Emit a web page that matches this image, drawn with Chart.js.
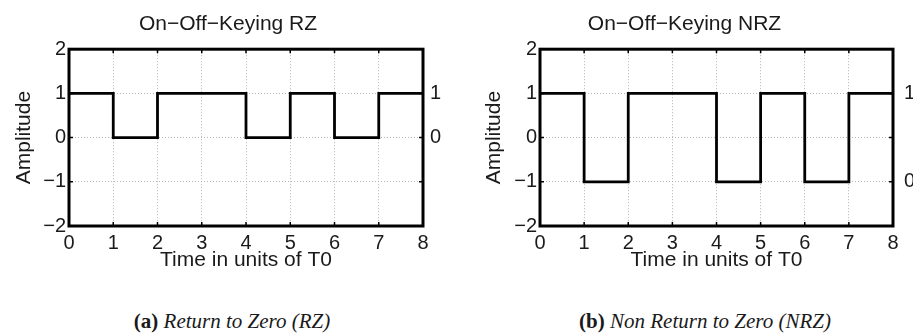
<!DOCTYPE html>
<html>
<head>
<meta charset="utf-8">
<script src="https://cdn.jsdelivr.net/npm/chart.js@4.4.0/dist/chart.umd.min.js"></script>
<style>
    body { margin: 0; background: #fff; width: 913px; height: 334px; position: relative; overflow: hidden; }
    .panel { position: absolute; top: 0; }
    .caption {
        position: absolute; top: 311px; line-height: 20px;
        font-family: "Liberation Serif", "Times New Roman", serif; font-size: 21px;
        color: #1a1a1a; white-space: nowrap; transform: translateX(-50%);
    }
</style>
</head>
<body>
<canvas id="rz-chart" class="panel" style="left:0" width="456" height="280"></canvas>
<canvas id="nrz-chart" class="panel" style="left:456px" width="457" height="280"></canvas>
<div class="caption" style="left:232px"><b>(a)</b> <i>Return to Zero (RZ)</i></div>
<div class="caption" style="left:705px"><b>(b)</b> <i>Non Return to Zero (NRZ)</i></div>

<script>
const timeTicks = [0, 1, 2, 3, 4, 5, 6, 7, 8];
const amplitudeTicks = [-2, -1, 0, 1, 2];
// level held from each time point to the next one (last point repeats)
const rzLevels = [1, 0, 1, 1, 0, 1, 0, 1, 1];
const nrzLevels = [1, -1, 1, 1, -1, 1, -1, 1, 1];
const rzBitTicks = [1, 0];
const nrzBitTicks = [1, -1];
const bitLabels = ['1', '0'];

const FONT = '"Liberation Sans", Arial, Helvetica, sans-serif';
const TEXT = '#1a1a1a';

function minus(v) {
    return String(v).replace('-', '\u2212');
}

// box around the axes plus small inward ticks, matlab style
const boxPlugin = {
    id: 'box',
    afterDatasetsDraw(chart) {
        const { ctx, chartArea: a, scales } = chart;
        ctx.save();
        ctx.setLineDash([]);
        ctx.strokeStyle = '#000';
        ctx.lineWidth = 1.5;
        ctx.beginPath();
        timeTicks.forEach(t => {
            const x = scales.x.getPixelForValue(t);
            ctx.moveTo(x, a.top); ctx.lineTo(x, a.top + 4);
            ctx.moveTo(x, a.bottom); ctx.lineTo(x, a.bottom - 4);
        });
        amplitudeTicks.forEach(v => {
            const y = scales.y.getPixelForValue(v);
            ctx.moveTo(a.left, y); ctx.lineTo(a.left + 4, y);
            ctx.moveTo(a.right, y); ctx.lineTo(a.right - 4, y);
        });
        ctx.stroke();
        ctx.lineWidth = 3;
        ctx.strokeRect(a.left, a.top, a.right - a.left, a.bottom - a.top);
        ctx.restore();
    }
};

function makeChart(id, title, levels, bitTicks, geo) {
    const grid = { color: '#b4b4b4', lineWidth: 1, drawTicks: false };
    const border = { display: false, dash: [1, 2] };

    new Chart(document.getElementById(id), {
        type: 'line',
        data: {
            datasets: [{
                data: timeTicks.map((t, i) => ({ x: t, y: levels[i] })),
                borderColor: '#000',
                borderWidth: 2.8,
                pointRadius: 0,
                stepped: 'before',
                fill: false
            }]
        },
        options: {
            responsive: false,
            animation: false,
            layout: { padding: 0 },
            plugins: {
                legend: { display: false },
                tooltip: { enabled: false },
                title: {
                    display: true,
                    text: title,
                    color: TEXT,
                    font: { family: FONT, size: 21, weight: 'normal' },
                    padding: { top: 12, bottom: 12 }
                }
            },
            scales: {
                x: {
                    type: 'linear',
                    min: 0,
                    max: 8,
                    afterBuildTicks: s => { s.ticks = timeTicks.map(v => ({ value: v })); },
                    afterFit: s => { s.height = 54; },
                    grid: grid,
                    border: border,
                    ticks: { color: TEXT, font: { family: FONT, size: 20 }, padding: 5, maxRotation: 0 },
                    title: {
                        display: true,
                        text: 'Time in units of T0',
                        color: TEXT,
                        font: { family: FONT, size: 21 },
                        padding: { top: 0, bottom: 7 }
                    }
                },
                y: {
                    position: 'left',
                    min: -2,
                    max: 2,
                    afterBuildTicks: s => { s.ticks = amplitudeTicks.map(v => ({ value: v })); },
                    afterFit: s => { s.width = geo.left; },
                    grid: grid,
                    border: border,
                    ticks: { color: TEXT, font: { family: FONT, size: 20 }, padding: 3, callback: v => minus(v) },
                    title: {
                        display: true,
                        text: 'Amplitude',
                        color: TEXT,
                        font: { family: FONT, size: 21 },
                        padding: { top: geo.titlePad, bottom: 0 }
                    }
                },
                y2: {
                    position: 'right',
                    min: -2,
                    max: 2,
                    afterBuildTicks: s => { s.ticks = bitTicks.map(v => ({ value: v })); },
                    afterFit: s => { s.width = geo.right; },
                    grid: { display: false, drawTicks: false },
                    border: { display: false },
                    ticks: {
                        color: TEXT,
                        font: { family: FONT, size: 20 },
                        padding: geo.rightPad,
                        callback: (v, i) => bitLabels[i]
                    }
                }
            }
        },
        plugins: [boxPlugin]
    });
}

makeChart('rz-chart', 'On\u2212Off\u2212Keying RZ', rzLevels, rzBitTicks,
    { left: 69, right: 33, titlePad: 12, rightPad: 7 });
makeChart('nrz-chart', 'On\u2212Off\u2212Keying NRZ', nrzLevels, nrzBitTicks,
    { left: 84, right: 20, titlePad: 26, rightPad: 11 });
</script>
</body>
</html>
